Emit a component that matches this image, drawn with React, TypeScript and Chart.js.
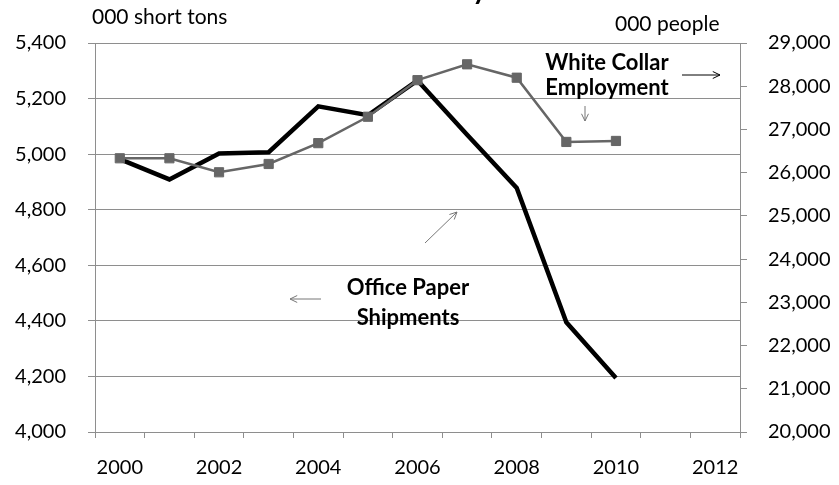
import React, { useEffect, useRef } from 'react';
import { Chart, registerables } from 'chart.js';

Chart.register(...registerables);

const years = ['2000', '2001', '2002', '2003', '2004', '2005', '2006', '2007', '2008', '2009', '2010', '2011', '2012'];
const paperShipments = [4982, 4909, 5002, 5007, 5172, 5140, 5265, 5070, 4878, 4395, 4194, null, null];
const whiteCollarEmployment = [26333, 26333, 26009, 26201, 26683, 27294, 28140, 28507, 28197, 26711, 26734, null, null];
const leftTickValues = [4000, 4200, 4400, 4600, 4800, 5000, 5200, 5400];
const rightTickValues = [20000, 21000, 22000, 23000, 24000, 25000, 26000, 27000, 28000, 29000];
const xLabelYears = ['2000', '2002', '2004', '2006', '2008', '2010', '2012'];

const FONT = 'Lato';
const GRID = '#8e8e8e';
const GRAY = '#666666';

function drawArrow(ctx: CanvasRenderingContext2D, x1: number, y1: number, x2: number, y2: number, color: string) {
  const ang = Math.atan2(y2 - y1, x2 - x1);
  const head = 8;
  const spread = 0.45;
  ctx.save();
  ctx.strokeStyle = color;
  ctx.lineWidth = 1;
  ctx.beginPath();
  ctx.moveTo(x1, y1);
  ctx.lineTo(x2, y2);
  ctx.moveTo(x2 - head * Math.cos(ang - spread), y2 - head * Math.sin(ang - spread));
  ctx.lineTo(x2, y2);
  ctx.lineTo(x2 - head * Math.cos(ang + spread), y2 - head * Math.sin(ang + spread));
  ctx.stroke();
  ctx.restore();
}

const annotationPlugin = {
  id: 'annotations',
  afterDraw(chart: any) {
    const ctx: CanvasRenderingContext2D = chart.ctx;
    ctx.save();
    // clipped title (only its descender shows)
    ctx.fillStyle = '#000';
    ctx.font = `bold 28px ${FONT}`;
    ctx.textAlign = 'right';
    ctx.textBaseline = 'alphabetic';
    ctx.fillText('Office Productivity', 487, -1);

    // unit labels
    ctx.font = `21px ${FONT}`;
    ctx.textAlign = 'left';
    ctx.textBaseline = 'middle';
    ctx.fillText('000 short tons', 92, 17);
    ctx.fillText('000 people', 615, 24);

    // series labels
    ctx.font = `bold 22px ${FONT}`;
    ctx.textAlign = 'center';
    ctx.fillText('Office Paper', 408, 288);
    ctx.fillText('Shipments', 408, 318);
    ctx.fillText('White Collar', 607, 63);
    ctx.fillText('Employment', 607, 88);

    drawArrow(ctx, 321, 299, 290, 299, '#777');
    drawArrow(ctx, 425, 243, 457, 212, '#777');
    drawArrow(ctx, 682, 75, 720, 75, '#000');
    drawArrow(ctx, 585, 106, 585, 121, '#777');
    ctx.restore();
  },
};

export default function App() {
  const ref = useRef<HTMLCanvasElement | null>(null);

  useEffect(() => {
    if (!ref.current) return;
    const chart = new Chart(ref.current, {
      type: 'line',
      data: {
        labels: years,
        datasets: [
          {
            label: 'Office Paper Shipments',
            data: paperShipments,
            yAxisID: 'y',
            borderColor: '#000',
            borderWidth: 4.5,
            pointRadius: 0,
            tension: 0,
            order: 2,
            borderJoinStyle: 'miter',
          },
          {
            label: 'White Collar Employment',
            data: whiteCollarEmployment,
            yAxisID: 'y1',
            borderColor: GRAY,
            backgroundColor: GRAY,
            borderWidth: 2.5,
            pointStyle: 'rect',
            pointRadius: 6.5,
            pointBorderWidth: 1,
            pointBorderColor: GRAY,
            pointBackgroundColor: GRAY,
            tension: 0,
            order: 1,
          },
        ],
      },
      options: {
        responsive: false,
        animation: false,
        layout: { padding: { top: 43, left: 0, right: 0, bottom: 0 } },
        plugins: { legend: { display: false }, tooltip: { enabled: false }, title: { display: false } },
        scales: {
          x: {
            type: 'category',
            offset: true,
            afterFit: (s: any) => { s.height = 53; },
            grid: { offset: true, drawOnChartArea: false, drawTicks: true, tickLength: 6, color: GRID },
            border: { display: true, color: GRID, width: 1 },
            ticks: {
              autoSkip: false,
              maxRotation: 0,
              padding: 18,
              color: '#000',
              font: { family: FONT, size: 20 },
              callback: function (this: any, v: any) {
                const lab = this.getLabelForValue(v);
                return xLabelYears.includes(lab) ? lab : '';
              },
            },
          },
          y: {
            position: 'left',
            min: 4000,
            max: 5400,
            afterFit: (s: any) => { s.width = 95; },
            afterBuildTicks: (s: any) => { s.ticks = leftTickValues.map((v) => ({ value: v })); },
            grid: { color: GRID, drawTicks: true, tickLength: 7 },
            border: { display: true, color: GRID, width: 1 },
            ticks: {
              padding: 22,
              color: '#000',
              font: { family: FONT, size: 20 },
              callback: (v: any) => Number(v).toLocaleString('en-US'),
            },
          },
          y1: {
            position: 'right',
            min: 20000,
            max: 29000,
            afterFit: (s: any) => { s.width = 99; },
            afterBuildTicks: (s: any) => { s.ticks = rightTickValues.map((v) => ({ value: v })); },
            grid: { drawOnChartArea: false, drawTicks: true, tickLength: 7, color: GRID },
            border: { display: true, color: GRID, width: 1 },
            ticks: {
              padding: 21,
              color: '#000',
              font: { family: FONT, size: 20 },
              callback: (v: any) => Number(v).toLocaleString('en-US'),
            },
          },
        },
      },
      plugins: [annotationPlugin],
    });
    return () => chart.destroy();
  }, []);

  return (
    <div style={{ position: 'fixed', left: 0, top: 0, width: 839, height: 485, background: '#fff' }}>
      <canvas ref={ref} width={839} height={485} style={{ display: 'block' }} />
    </div>
  );
}
